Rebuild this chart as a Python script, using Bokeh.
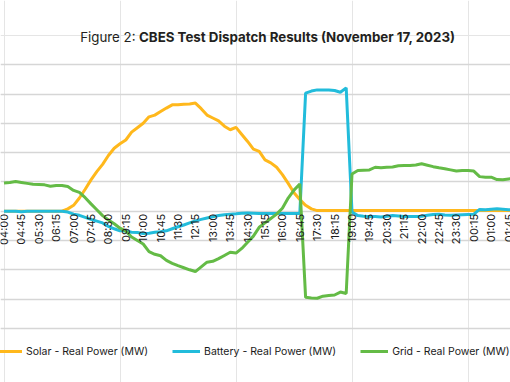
import math
from bokeh.plotting import figure
from bokeh.models import Range1d, Grid, FixedTicker, ColumnDataSource
from bokeh.core.properties import value
from bokeh.embed import file_html
from bokeh.resources import INLINE

# ---------------- data (15-minute intervals starting 04:00) ----------------
tick_labels = ["04:00", "04:45", "05:30", "06:15", "07:00", "07:45", "08:30", "09:15",
               "10:00", "10:45", "11:30", "12:15", "13:00", "13:45", "14:30", "15:15",
               "16:00", "16:45", "17:30", "18:15", "19:00", "19:45", "20:30", "21:15",
               "22:00", "22:45", "23:30", "00:15", "01:00", "01:45"]

solar = [0, 0, 0, 0, 0, 0, 0, 0, 0, 0, 0,
         0.08, 0.2, 0.45, 0.75, 1.07, 1.35, 1.6, 1.9, 2.15, 2.3,
         2.43, 2.7, 2.85, 3.0, 3.22, 3.28, 3.4, 3.52, 3.63, 3.63,
         3.65, 3.66, 3.69, 3.5, 3.28, 3.18, 3.08, 2.9, 2.78, 2.86,
         2.62, 2.38, 2.12, 2.04, 1.75, 1.65, 1.5, 1.25, 0.95, 0.63,
         0.4, 0.2, 0.08, 0.02, 0.02, 0.02, 0.02, 0.02, 0.02, 0.02,
         0.02, 0.02, 0.02, 0.02, 0.02, 0.02, 0.02, 0.02, 0.02, 0.02,
         0.02, 0.02, 0.02, 0.02, 0.02, 0.02, 0.02, 0.02, 0.02, 0.02,
         0.02, 0.02, 0.02, 0.02, 0.02, 0.02, 0.02, 0.02]

battery = [0, 0, 0, -0.02, 0, 0, 0, 0, 0, 0, 0,
           -0.03, -0.1, -0.14, -0.21, -0.28, -0.34, -0.4, -0.52, -0.6, -0.67,
           -0.68, -0.72, -0.73, -0.76, -0.75, -0.72, -0.7, -0.67, -0.6, -0.53,
           -0.47, -0.4, -0.33, -0.28, -0.23, -0.19, -0.15, -0.12, -0.1, -0.09,
           -0.07, -0.06, -0.07, -0.08, -0.08, -0.08, -0.08, -0.08, -0.08, -0.08,
           -0.08, 4.03, 4.1, 4.14, 4.14, 4.14, 4.12, 4.06, 4.21, -0.03,
           -0.15, -0.17, -0.18, -0.18, -0.2, -0.17, -0.15, -0.16, -0.18, -0.18,
           -0.18, -0.17, -0.14, -0.11, -0.1, -0.13, -0.14, -0.13, -0.12, -0.11,
           -0.1, 0.06, 0.05, 0.07, 0.08, 0.07, 0.05, 0.05]

grid = [0.96, 0.98, 1.01, 0.98, 0.95, 0.92, 0.91, 0.9, 0.85, 0.88, 0.88,
        0.84, 0.71, 0.64, 0.46, 0.25, 0.05, -0.15, -0.3, -0.43, -0.58,
        -0.68, -0.88, -1.0, -1.12, -1.38, -1.47, -1.52, -1.68, -1.78, -1.86,
        -1.93, -2.0, -2.06, -1.9, -1.74, -1.71, -1.62, -1.51, -1.4, -1.43,
        -1.27, -1.06, -0.85, -0.55, -0.4, -0.25, -0.1, 0.1, 0.45, 0.72,
        0.93, -2.94, -2.96, -2.97, -2.9, -2.88, -2.86, -2.76, -2.81, 1.27,
        1.39, 1.4, 1.41, 1.5, 1.48, 1.5, 1.51, 1.55, 1.56, 1.56,
        1.58, 1.62, 1.57, 1.52, 1.48, 1.45, 1.41, 1.37, 1.39, 1.39,
        1.37, 1.18, 1.16, 1.16, 1.08, 1.07, 1.1, 1.12]

grid_values = [-4, -3, -2, -1, 0, 1, 2, 3, 4, 5]

title_normal = "Figure 2:"
title_bold = "CBES Test Dispatch Results (November 17, 2023)"

# ---------------- layout ----------------
W, H = 510, 382
STEP_PX = 5.8                            # pixels per 15-minute step
X0 = -3.5 / STEP_PX
X1 = X0 + W / STEP_PX
ZERO_PY, STEP_PY = 210.7, 29.3
Y1 = ZERO_PY / STEP_PY
Y0 = (ZERO_PY - H) / STEP_PY


def fx(px):
    """figure pixel x -> data x"""
    return X0 + px / W * (X1 - X0)


def fy(py):
    """figure pixel y (from top) -> data y"""
    return (ZERO_PY - py) / STEP_PY


FONT = "Inter"

p = figure(width=W, height=H, output_backend="svg", toolbar_location=None,
           x_range=Range1d(X0, X1), y_range=Range1d(Y0, Y1),
           x_axis_location=None, y_axis_location=None,
           min_border=0, min_border_left=0, min_border_right=0,
           min_border_top=0, min_border_bottom=0)
p.outline_line_color = None
p.background_fill_color = "white"
p.border_fill_color = "white"

p.add_layout(Grid(dimension=1, ticker=FixedTicker(ticks=grid_values),
                  grid_line_color="#D6D6D6", grid_line_width=1.5))

x = list(range(len(solar)))
src = ColumnDataSource(dict(x=x, solar=solar, battery=battery, grid=grid))

p.line("x", "solar", source=src, line_color="#FFB81C", line_width=3,
       legend_label="Solar - Real Power (MW)")
p.line("x", "battery", source=src, line_color="#22BCDB", line_width=3,
       legend_label="Battery - Real Power (MW)")
p.line("x", "grid", source=src, line_color="#64BB46", line_width=3,
       legend_label="Grid - Real Power (MW)")

# category labels, rotated, hanging just below the zero line
tick_x = list(range(0, 3 * len(tick_labels), 3))
tsrc = ColumnDataSource(dict(x=tick_x, y=[fy(213.3)] * len(tick_x), t=tick_labels))
p.text("x", "y", text="t", source=tsrc, angle=math.pi / 2,
       text_align="right", text_baseline="middle",
       text_font=value(FONT), text_font_size="11px", text_color="#1A1A1A")

# title in two weights
p.text(x=[fx(135)], y=[fy(36.7)], text=[title_normal], text_align="right",
       text_baseline="alphabetic", text_font=value(FONT), text_font_size="13.3px",
       text_color="#231F20")
p.text(x=[fx(138.5)], y=[fy(36.7)], text=[title_bold], text_align="left",
       text_baseline="alphabetic", text_font=value(FONT), text_font_size="13.3px",
       text_font_style="bold", text_color="#231F20")

lg = p.legend[0]
lg.orientation = "horizontal"
lg.location = (-6, 23)
lg.glyph_width = 28
lg.glyph_height = 16
lg.label_height = 16
lg.label_standoff = 4
lg.spacing = 24
lg.padding = 0
lg.margin = 0
lg.border_line_color = None
lg.background_fill_alpha = 0
lg.label_text_font = FONT
lg.label_text_font_size = "10.5px"
lg.label_text_color = "#1A1A1A"

open("out.html", "w").write(file_html(p, INLINE))
